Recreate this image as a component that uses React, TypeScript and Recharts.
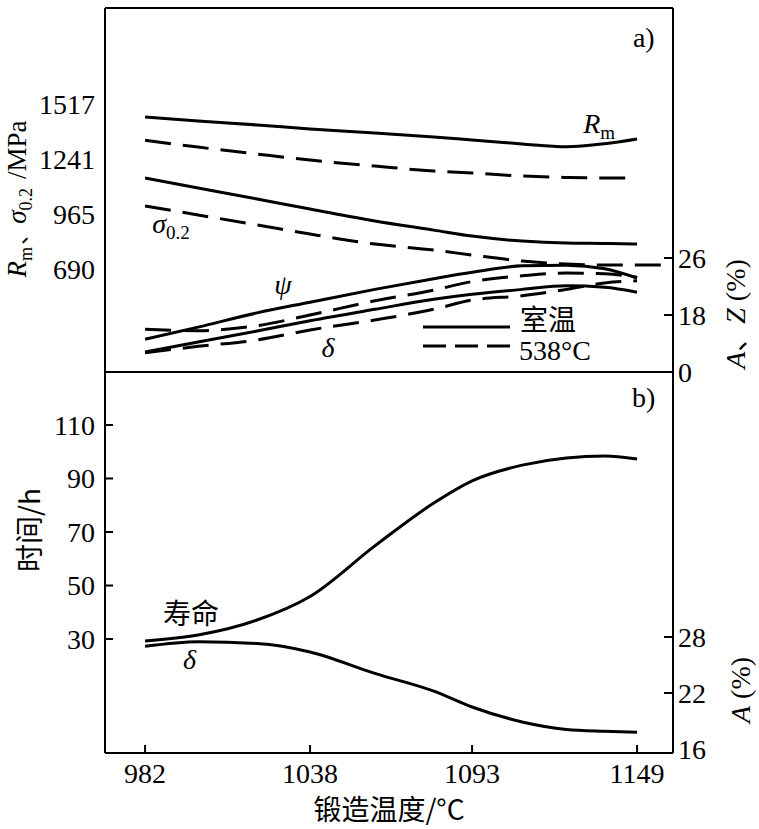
// @ts-nocheck
import React from 'react'
import { LineChart, Line, XAxis, YAxis, ReferenceLine, ReferenceDot, Legend } from 'recharts'

// forging temperature (°C)
const temps = [982, 1000, 1020, 1038, 1060, 1080, 1093, 1110, 1125, 1138, 1149, 1158]

// panel a) strength, MPa (room temp = solid, 538°C = dashed)
const rmRoom = [1452, 1432, 1412, 1392, 1372, 1352, 1337, 1317, 1303, 1318, 1342, null]
const rm538 = [1335, 1301, 1266, 1236, 1206, 1181, 1171, 1156, 1149, 1146, 1146, null]
const sigRoom = [1146, 1096, 1041, 991, 931, 885, 855, 830, 820, 818, 815, null]
const sig538 = [1006, 961, 911, 865, 815, 785, 760, 730, 715, 710, 710, 710]

// panel a) ductility, % (right axis)
const psiRoom = [14.6, 16.3, 18.3, 19.8, 21.6, 23.1, 24.0, 24.9, 25.0, 24.5, 23.2, null]
const psi538 = [16.0, 15.8, 16.5, 18.0, 20.0, 21.5, 22.7, 23.5, 23.9, 23.8, 23.3, null]
const deltaRoom = [12.8, 14.2, 15.75, 17.2, 18.8, 20.2, 20.9, 21.6, 22.1, 21.9, 21.2, null]
const delta538 = [12.7, 13.6, 14.5, 15.9, 17.3, 18.8, 20.1, 20.7, 21.6, 22.5, 22.8, null]

// panel b) rupture life (h) and elongation (%)
const life = [29.3, 31.5, 37.1, 45.9, 64.8, 80.8, 89.1, 95.0, 97.7, 98.4, 97.3, null]
const elong = [27.0, 27.5, 27.3, 26.4, 24.1, 22.2, 20.5, 18.9, 18.1, 17.9, 17.8, null]

const xTicks = [982, 1038, 1093, 1149]
const mpaTicks = [690, 965, 1241, 1517]
const azTicks = [10, 18, 26] // bottom tick is printed as "0" in the source figure
const hourTicks = [30, 50, 70, 90, 110]
const aTicks = [16, 22, 28]

const topData = temps.map((t, i) => ({
  t,
  rmRoom: rmRoom[i], rm538: rm538[i], sigRoom: sigRoom[i], sig538: sig538[i],
  psiRoom: psiRoom[i], psi538: psi538[i], deltaRoom: deltaRoom[i], delta538: delta538[i],
}))
const bottomData = temps.map((t, i) => ({ t, life: life[i], elong: elong[i] }))

const SERIF = 'Liberation Serif, serif'
const CJK = 'Noto Sans CJK SC, sans-serif'
const FS = 28
const X_DOMAIN = [968.4, 1161.2]
const DASH = '26 12'

const tickStyle = { fontSize: FS, fontFamily: SERIF, fill: '#000' }

function RightTick({ x, y, payload, marks, fmt }) {
  const v = payload.value
  return (
    <g>
      {marks.includes(v) && <line x1={x - 14} x2={x - 5} y1={y} y2={y} stroke="#000" strokeWidth={2} />}
      <text x={x} y={y} dy="0.355em" textAnchor="start" fontSize={FS} fontFamily={SERIF} fill="#000">
        {fmt ? fmt(v) : v}
      </text>
    </g>
  )
}

// rotated axis title, baseline at page x = bx, centred at page y = cy
function VTitle({ bx, cy, children, font = SERIF, size = FS }) {
  return (
    <text x={bx} y={cy} transform={`rotate(-90, ${bx}, ${cy})`} textAnchor="middle" fontSize={size} fontFamily={font} fill="#000">
      {children}
    </text>
  )
}

const sub = (s, sz = 19) => [
  <tspan key="a" fontSize={sz} dy={6}>{s}</tspan>,
  <tspan key="b" dy={-6}>{'\u200a'}</tspan>,
]

const TextAt = ({ viewBox, children, anchor = 'start', font = SERIF }) => (
  <text x={viewBox.x} y={viewBox.y} textAnchor={anchor} fontSize={FS} fontFamily={font} fill="#000">
    {children}
  </text>
)

const note = (content, anchor = 'start', font = SERIF) => ({
  content: (p) => <TextAt viewBox={p.viewBox} anchor={anchor} font={font}>{content}</TextAt>,
})

const legendContent = () => (
  <svg width={220} height={72} style={{ display: 'block' }}>
    <line x1={5} x2={92} y1={29} y2={29} stroke="#000" strokeWidth={3} />
    <text x={102} y={32} fontSize={FS} fontFamily={CJK} fill="#000">室温</text>
    <line x1={5} x2={92} y1={48} y2={48} stroke="#000" strokeWidth={3} strokeDasharray="23 9" />
    <text x={101} y={62} fontSize={FS} fontFamily={SERIF} fill="#000">538°C</text>
  </svg>
)

export default function App() {
  return (
    <div style={{ position: 'absolute', left: 0, top: 0, width: 759, height: 829, background: '#fff' }}>
      <div style={{ position: 'absolute', left: 0, top: 0 }}>
        <LineChart width={759} height={400} data={topData} margin={{ top: 8, right: 26, bottom: 28, left: 45 }}>
          <XAxis type="number" dataKey="t" domain={X_DOMAIN} allowDataOverflow hide />
          <YAxis
            yAxisId="left" width={60} domain={[174, 1998]} ticks={mpaTicks} allowDataOverflow
            axisLine={{ stroke: '#000', strokeWidth: 2 }} tickLine={false} tickMargin={4} tick={tickStyle}
            label={{
              content: () => (
                <VTitle bx={26} cy={199} size={27}>
                  <tspan fontStyle="italic">R</tspan>
                  {sub('m', 18)}
                  <tspan fontFamily={CJK} fontSize={21}>、</tspan>
                  <tspan fontStyle="italic">σ</tspan>
                  {sub('0.2', 18)}
                  <tspan> /MPa</tspan>
                </VTitle>
              ),
            }}
          />
          <YAxis
            yAxisId="right" orientation="right" width={60} domain={[10, 61.1]} ticks={azTicks} allowDataOverflow
            axisLine={{ stroke: '#000', strokeWidth: 2 }} tickLine={false} tickSize={-9} tickMargin={14}
            tick={<RightTick marks={[18, 26]} fmt={(v) => (v === 10 ? '0' : v)} />}
            label={{
              content: () => (
                <VTitle bx={745} cy={314}>
                  <tspan fontStyle="italic">A</tspan>
                  <tspan fontFamily={CJK}>、</tspan>
                  <tspan fontStyle="italic">Z</tspan>
                  <tspan> (%)</tspan>
                </VTitle>
              ),
            }}
          />
          <ReferenceLine yAxisId="left" y={1998} stroke="#000" strokeWidth={2} />
          <ReferenceLine yAxisId="left" y={174} stroke="#000" strokeWidth={2} />

          <Line yAxisId="left" type="monotone" dataKey="rmRoom" stroke="#000" strokeWidth={3} dot={false} isAnimationActive={false} />
          <Line yAxisId="left" type="monotone" dataKey="rm538" stroke="#000" strokeWidth={3} strokeDasharray={DASH} dot={false} isAnimationActive={false} />
          <Line yAxisId="left" type="monotone" dataKey="sigRoom" stroke="#000" strokeWidth={3} dot={false} isAnimationActive={false} />
          <Line yAxisId="left" type="monotone" dataKey="sig538" stroke="#000" strokeWidth={3} strokeDasharray={DASH} dot={false} isAnimationActive={false} />
          <Line yAxisId="right" type="monotone" dataKey="psiRoom" stroke="#000" strokeWidth={3} dot={false} isAnimationActive={false} />
          <Line yAxisId="right" type="monotone" dataKey="psi538" stroke="#000" strokeWidth={3} strokeDasharray={DASH} dot={false} isAnimationActive={false} />
          <Line yAxisId="right" type="monotone" dataKey="deltaRoom" stroke="#000" strokeWidth={3} dot={false} isAnimationActive={false} />
          <Line yAxisId="right" type="monotone" dataKey="delta538" stroke="#000" strokeWidth={3} strokeDasharray={DASH} dot={false} isAnimationActive={false} />

          <ReferenceDot yAxisId="left" x={1147.6} y={1803} r={0} fill="none" stroke="none" label={note('a)')} />
          <ReferenceDot yAxisId="left" x={1130.7} y={1372} r={0} fill="none" stroke="none"
            label={note([<tspan key="r" fontStyle="italic">R</tspan>, ...sub('m')])} />
          <ReferenceDot yAxisId="left" x={984.4} y={870} r={0} fill="none" stroke="none"
            label={note([<tspan key="s" fontStyle="italic">σ</tspan>, ...sub('0.2')])} />
          <ReferenceDot yAxisId="right" x={1028.8} y={20.95} r={0} fill="none" stroke="none"
            label={note(<tspan fontStyle="italic">ψ</tspan>, 'middle')} />
          <ReferenceDot yAxisId="right" x={1044.1} y={12.1} r={0} fill="none" stroke="none"
            label={note(<tspan fontStyle="italic">δ</tspan>, 'middle')} />

          <Legend layout="horizontal" verticalAlign="middle" align="center" content={legendContent}
            wrapperStyle={{ left: 418, top: 298, width: 220, height: 72 }} />
        </LineChart>
      </div>

      <div style={{ position: 'absolute', left: 0, top: 364 }}>
        <LineChart width={759} height={465} data={bottomData} margin={{ top: 8, right: 26, bottom: 0, left: 45 }}>
          <XAxis
            type="number" dataKey="t" domain={X_DOMAIN} ticks={xTicks} allowDataOverflow height={76}
            axisLine={{ stroke: '#000', strokeWidth: 2 }} tickLine={{ stroke: '#000', strokeWidth: 2 }}
            tickSize={-8} tickMargin={18} tick={tickStyle}
            label={{ value: '锻造温度/°C', position: 'insideBottom', offset: 9, fontSize: FS, fontFamily: CJK, fill: '#000' }}
          />
          <YAxis
            yAxisId="left" width={60} domain={[-12.6, 129.8]} ticks={hourTicks} allowDataOverflow
            axisLine={{ stroke: '#000', strokeWidth: 2 }} tickLine={{ stroke: '#000', strokeWidth: 2 }}
            tickSize={-8} tickMargin={18} tick={tickStyle}
            label={{ content: () => <VTitle bx={40} cy={166} font={CJK}>时间/h</VTitle> }}
          />
          <YAxis
            yAxisId="right" orientation="right" width={60} domain={[15.57, 56.4]} ticks={aTicks} allowDataOverflow
            axisLine={{ stroke: '#000', strokeWidth: 2 }} tickLine={false} tickSize={-9} tickMargin={14}
            tick={<RightTick marks={[22, 28]} />}
            label={{
              content: () => (
                <VTitle bx={750} cy={326}>
                  <tspan fontStyle="italic">A</tspan>
                  <tspan> (%)</tspan>
                </VTitle>
              ),
            }}
          />
          <ReferenceLine yAxisId="left" y={129.8} stroke="#000" strokeWidth={2} />

          <Line yAxisId="left" type="monotone" dataKey="life" stroke="#000" strokeWidth={3} dot={false} isAnimationActive={false} />
          <Line yAxisId="right" type="monotone" dataKey="elong" stroke="#000" strokeWidth={3} dot={false} isAnimationActive={false} />

          <ReferenceDot yAxisId="left" x={1147.3} y={116.7} r={0} fill="none" stroke="none" label={note('b)')} />
          <ReferenceDot yAxisId="left" x={988.1} y={35.6} r={0} fill="none" stroke="none" label={note('寿命', 'start', CJK)} />
          <ReferenceDot yAxisId="left" x={994.9} y={18.8} r={0} fill="none" stroke="none"
            label={note(<tspan fontStyle="italic">δ</tspan>)} />
        </LineChart>
      </div>
    </div>
  )
}
